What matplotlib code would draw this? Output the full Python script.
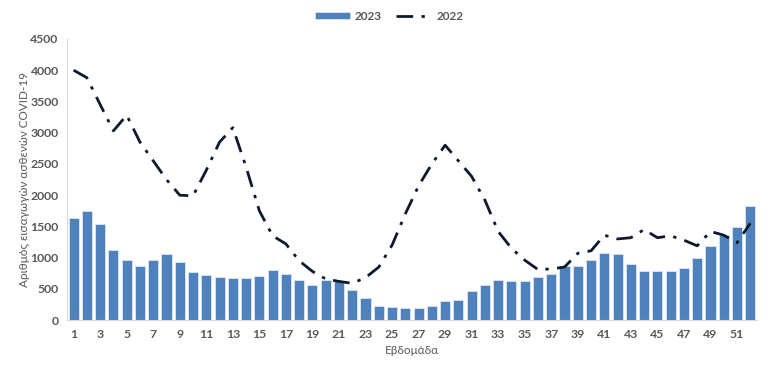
import matplotlib
matplotlib.use("Agg")
import matplotlib.pyplot as plt
import numpy as np

weeks = list(range(1, 53))

cases_2023 = [1635, 1750, 1540, 1120, 960, 860, 960, 1060, 925, 770,
              720, 690, 670, 670, 705, 810, 735, 635, 560, 635,
              625, 490, 355, 225, 210, 190, 200, 225, 300, 320,
              470, 570, 640, 625, 625, 690, 740, 860, 870, 970,
              1080, 1065, 900, 780, 790, 785, 840, 990, 1180, 1370,
              1490, 1820]

cases_2022 = [4000, 3880, 3450, 3030, 3280, 2850, 2550, 2250, 2000, 1990,
              2400, 2850, 3080, 2450, 1750, 1350, 1220, 950, 780, 660,
              620, 590, 680, 850, 1200, 1700, 2150, 2500, 2800, 2550,
              2300, 1920, 1420, 1150, 960, 810, 820, 850, 1070, 1110,
              1360, 1300, 1320, 1450, 1320, 1350, 1280, 1190, 1420, 1360,
              1240, 1550]

xtick_labels = [str(w) for w in range(1, 53, 2)]

plt.rcParams["font.family"] = ["Lato", "DejaVu Sans"]
text_color = "#595959"

fig = plt.figure(figsize=(7.7, 3.71), dpi=100)
ax = fig.add_axes([0.087, 0.137, 0.896, 0.758])

bars = ax.bar(weeks, cases_2023, width=0.76, color="#4F81BD",
              edgecolor="#DCE6F2", linewidth=0.6, label="2023", zorder=2)
line, = ax.plot(weeks, cases_2022, color="#0D1A2E", linewidth=2.0,
                dashes=(6, 3, 1.2, 3), label="2022", zorder=3)

ax.set_xlim(0.5, 52.5)
ax.set_ylim(0, 4500)
ax.set_yticks(np.arange(0, 4501, 500))
ax.set_xticks(range(1, 53, 2))
ax.set_xticklabels(xtick_labels)
ax.tick_params(axis="both", length=0, labelsize=8.8, colors=text_color, pad=6)
for lab in ax.get_xticklabels() + ax.get_yticklabels():
    lab.set_fontweight("bold")

for side in ["top", "right"]:
    ax.spines[side].set_visible(False)
ax.spines["left"].set_color("#D9D9D9")
ax.spines["bottom"].set_color("#D9D9D9")

ax.set_xlabel("Εβδομάδα", fontsize=8.5, color=text_color, labelpad=4)
ax.set_ylabel("Αριθμός εισαγωγών ασθενών COVID-19", fontsize=8.5,
              color=text_color, labelpad=0)

leg = fig.legend([bars, line], ["2023", "2022"], loc="upper center",
                 bbox_to_anchor=(0.505, 1.0), ncol=2,
                 frameon=False, fontsize=8.5, handlelength=3.0,
                 handleheight=0.5, columnspacing=1.2, handletextpad=0.4)
for t in leg.get_texts():
    t.set_color(text_color)
    t.set_fontweight("bold")

fig.savefig("out.png", dpi=100)
